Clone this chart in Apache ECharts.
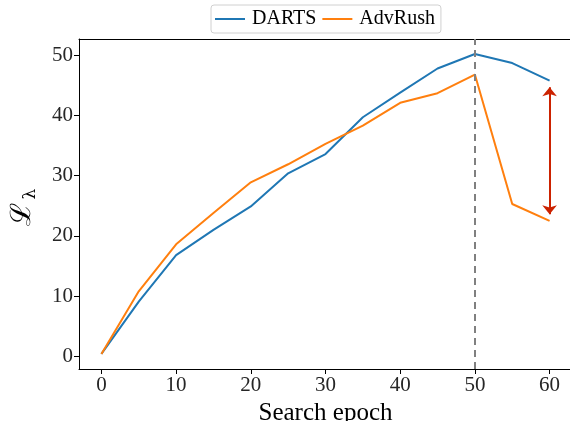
<!DOCTYPE html>
<html>
<head>
<meta charset="utf-8">
<script src="https://cdn.jsdelivr.net/npm/echarts@6/dist/echarts.min.js"></script>
<style>
  html, body { margin: 0; padding: 0; background: #fff; }
  #main { width: 570px; height: 421px; }
</style>
</head>
<body>
<div id="main"></div>
<script>
// search epochs
var epochs = [0, 5, 10, 15, 20, 25, 30, 35, 40, 45, 50, 55, 60];
// L_lambda values
var darts   = [0.4, 9.1, 16.8, 21.0, 24.9, 30.4, 33.6, 39.7, 43.8, 47.8, 50.2, 48.7, 45.8];
var advrush = [0.4, 10.8, 18.6, 23.8, 28.9, 31.9, 35.3, 38.3, 42.1, 43.7, 46.8, 25.3, 22.5];
var xTicks = [0, 10, 20, 30, 40, 50, 60];
var yTicks = [0, 10, 20, 30, 40, 50];
var peakEpoch = 50;
var gapEpoch = 60;
var gapRange = [23.6, 44.7];

function pairs(xs, ys) {
  var out = [];
  for (var i = 0; i < xs.length; i++) {
    out.push([xs[i], ys[i]]);
  }
  return out;
}

var chart = echarts.init(document.getElementById('main'), null, { renderer: 'canvas' });
var font = 'Liberation Serif';

var option = {
  animation: false,
  textStyle: { fontFamily: font },
  grid: {
    left: 79, top: 39, width: 493, height: 330,
    outerBoundsMode: 'none'
  },
  legend: {
    top: 5, left: 211,
    itemWidth: 30, itemHeight: 2, itemGap: 6,
    padding: [4, 6, 4, 4],
    borderColor: '#d0d0d0', borderWidth: 1, borderRadius: 3,
    textStyle: { fontFamily: font, fontSize: 20, color: '#000', padding: [0, 0, 0, 2] },
    icon: 'rect',
    data: ['DARTS', 'AdvRush']
  },
  xAxis: [
    {
      type: 'value', min: -3, max: 63,
      name: 'Search epoch', nameLocation: 'middle', nameGap: 29,
      nameTextStyle: { fontFamily: font, fontSize: 25, color: '#000' },
      splitLine: { show: false },
      axisLine: { onZero: false, lineStyle: { color: '#000' } },
      axisTick: { show: true, length: 5, customValues: xTicks, lineStyle: { color: '#000' } },
      axisLabel: { customValues: xTicks, fontFamily: font, fontSize: 21, color: '#262626', margin: 6 }
    },
    {
      // top spine only
      type: 'value', position: 'top', min: -3, max: 63,
      splitLine: { show: false },
      axisLine: { onZero: false, lineStyle: { color: '#000' } },
      axisTick: { show: false },
      axisLabel: { show: false }
    }
  ],
  yAxis: {
    type: 'value', min: -2.1, max: 52.7,
    splitLine: { show: false },
    axisLine: { show: true, onZero: false, lineStyle: { color: '#000' } },
    axisTick: { show: true, length: 5, customValues: yTicks, lineStyle: { color: '#000' } },
    axisLabel: { customValues: yTicks, fontFamily: font, fontSize: 21, color: '#262626', margin: 6 }
  },
  graphic: [
    {
      type: 'text', x: 23, y: 214, rotation: Math.PI / 2,
      style: {
        text: 'ℒ', fontFamily: 'DejaVu Serif', fontSize: 28, fill: '#000',
        align: 'center', verticalAlign: 'middle'
      }
    },
    {
      type: 'text', x: 31, y: 194, rotation: Math.PI / 2,
      style: {
        text: 'λ', fontFamily: 'DejaVu Serif', fontSize: 17, fill: '#000',
        align: 'center', verticalAlign: 'middle'
      }
    }
  ],
  series: [
    {
      name: 'DARTS', type: 'line', data: pairs(epochs, darts),
      showSymbol: false, color: '#1f77b4',
      lineStyle: { width: 2, color: '#1f77b4' },
      markLine: {
        silent: true, symbol: ['none', 'none'],
        lineStyle: { color: '#808080', type: [7, 5], width: 2 },
        label: { show: false },
        data: [{ xAxis: peakEpoch }]
      }
    },
    {
      name: 'AdvRush', type: 'line', data: pairs(epochs, advrush),
      showSymbol: false, color: '#ff7f0e',
      lineStyle: { width: 2, color: '#ff7f0e' },
      markLine: {
        silent: true, symbol: ['arrow', 'arrow'], symbolSize: [11, 9],
        lineStyle: { color: '#cc2200', type: 'solid', width: 2 },
        label: { show: false },
        data: [[{ coord: [gapEpoch, gapRange[0]] }, { coord: [gapEpoch, gapRange[1]] }]]
      }
    }
  ]
};

chart.setOption(option);
</script>
</body>
</html>
